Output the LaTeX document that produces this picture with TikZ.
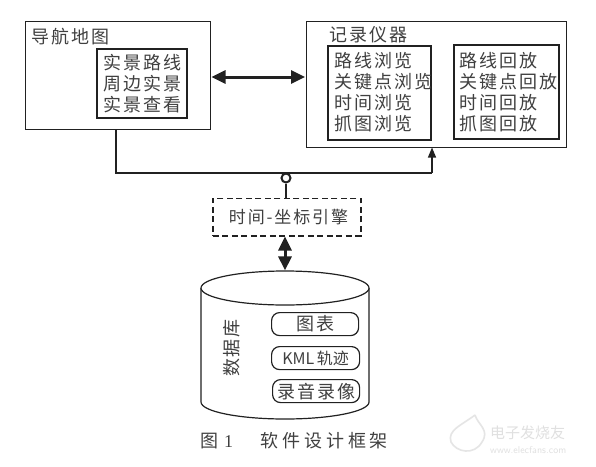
\documentclass[tikz,border=0pt]{standalone}
\usepackage{fontspec}
\setmainfont{Liberation Serif}
\newfontfamily\cjk[LetterSpace=11]{Noto Sans CJK SC}
\newfontfamily\cjkp{Noto Sans CJK SC}
\usetikzlibrary{arrows.meta,shapes.geometric}
\definecolor{ink}{gray}{0.13}
\definecolor{txt}{gray}{0.25}
\tikzset{
  outerbox/.style={draw=ink,line width=1.4pt,fill=white,inner sep=0pt},
  innerbox/.style={draw=ink,line width=1.7pt,fill=white,inner sep=0pt},
  dashbox/.style={draw=ink,line width=1.5pt,dash pattern=on 6pt off 3.5pt,inner sep=0pt},
  pill/.style={draw=ink,line width=1.2pt,rounded corners=8pt,inner sep=0pt,text=txt,font=\fontsize{18}{20}\cjk},
  listtext/.style={inner sep=0pt,text=txt,font=\fontsize{18}{21}\cjk,align=left,anchor=north west},
  wire/.style={draw=ink,line width=1.2pt},
  bigarrow/.style={draw=ink,line width=3pt,{Triangle[length=14pt,width=13pt]}-{Triangle[length=14pt,width=13pt]}},
  stub/.style={draw=ink,line width=1.2pt,-{Triangle[length=10pt,width=8pt]}}
}
\begin{document}
\begin{tikzpicture}[x=1pt,y=-1pt]
\useasboundingbox (0,0) rectangle (596,466);
\fill[white] (0,0) rectangle (596,466);
% boxes
\node[outerbox,minimum width=185pt,minimum height=108pt,anchor=north west] (nav) at (24.5,21) {};
\node[innerbox,minimum width=90pt,minimum height=69pt,anchor=north west] (navin) at (96,48) {};
\node[outerbox,minimum width=260.5pt,minimum height=126pt,anchor=north west] (rec) at (305.5,21) {};
\node[innerbox,minimum width=103pt,minimum height=94pt,anchor=north west] (br) at (327,45) {};
\node[innerbox,minimum width=105pt,minimum height=94pt,anchor=north west] (pb) at (453,44) {};
\node[dashbox,minimum width=148pt,minimum height=37.5pt,anchor=north west] (eng) at (212,197.5) {};
% titles and lists
\node[listtext] (navt) at (31,28) {导航地图};
\node[listtext] (navl) at (103,54.5) {实景路线\\周边实景\\实景查看};
\node[listtext] (rect) at (329,26) {记录仪器};
\node[listtext] (brl) at (334,52) {路线浏览\\关键点浏览\\时间浏览\\抓图浏览};
\node[listtext] (pbl) at (459,52) {路线回放\\关键点回放\\时间回放\\抓图回放};
\node[inner sep=0pt,text=txt] (engt) at (288.5,217) {\fontsize{17}{20}\cjk 时间-坐标引擎};
% wires
\coordinate (navout) at (116,129);
\coordinate (wa) at (116,173);
\coordinate (wb) at (432,173);
\coordinate (recin) at (432,147.5);
\draw[wire] (navout) -- (wa) -- (wb);
\draw[stub] (wb) -- (recin);
\node[circle,draw=ink,line width=2pt,fill=white,minimum size=9pt,inner sep=0pt] (ring) at (286,178) {};
\draw[wire] (ring) -- (eng.north -| ring);
\coordinate (arrowL) at (211.5,77);
\coordinate (arrowR) at (305,77);
\draw[bigarrow] (arrowL) -- (arrowR);
% cylinder
\draw[ink,line width=1.2pt,fill=white] (201,288) -- (201,402) arc[start angle=180,end angle=360,x radius=84,y radius=-17] -- (369,288);
\node[ellipse,draw=ink,line width=1.2pt,fill=white,minimum width=168pt,minimum height=34pt,inner sep=0pt] (dbtop) at (285,288) {};
\draw[bigarrow] (eng.south -| dbtop) -- (dbtop.north);
\node[inner sep=0pt,text=txt,rotate=90,font=\fontsize{18}{20}\cjk] (dbt) at (232,348) {数据库};
\node[pill,minimum width=87pt,minimum height=23pt,anchor=north west] (p1) at (271,312) {图表};
\node[pill,minimum width=88pt,minimum height=23pt,anchor=north west] (p2) at (271,346) {\fontsize{16}{20}\cjkp KML\,轨迹};
\node[pill,minimum width=87pt,minimum height=23pt,anchor=north west] (p3) at (272,379) {录音录像};
% caption
\node[inner sep=0pt,text=txt,anchor=west] (capa) at (200,441) {\fontsize{18}{20}\cjkp 图\hspace{6pt}\rmfamily 1};
\node[inner sep=0pt,text=txt,anchor=west] (capb) at (260,441) {\fontsize{18}{20}\cjkp\addfontfeature{LetterSpace=22}软件设计框架};
% watermark
\node[inner sep=0pt,text=black!12,anchor=west] (wm1) at (490,433) {\fontsize{15}{18}\cjkp 电子发烧友};
\node[inner sep=0pt,text=black!12,anchor=west] (wm2) at (490,450) {\fontsize{10}{12}\sffamily www.elecfans.com};
\draw[black!10,line width=1.6pt] (475,415) .. controls (478,425) and (490,430) .. (482,442) .. controls (474,456) and (456,452) .. (451,442) .. controls (447,430) and (462,425) .. (475,415);
\end{tikzpicture}
\end{document}
